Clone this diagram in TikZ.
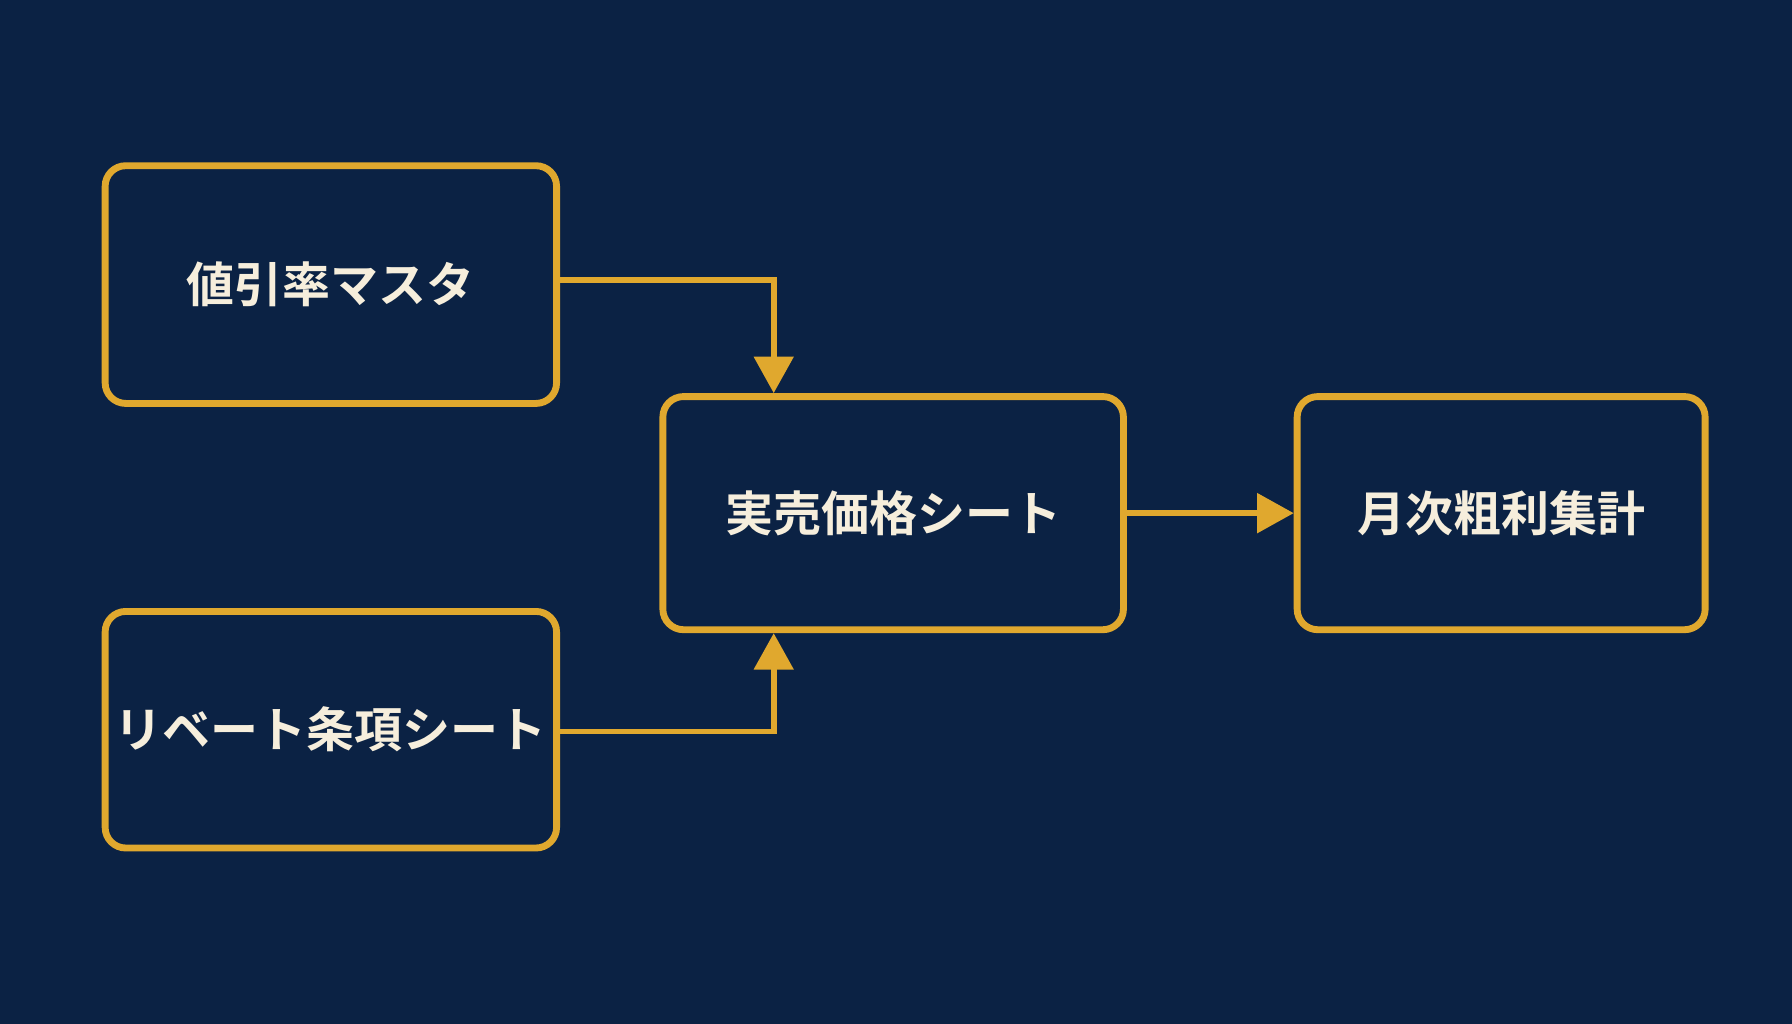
\documentclass[tikz,border=0pt]{standalone}
\usepackage{fontspec}
\newfontfamily\cjk{Noto Sans CJK JP}[BoldFont={Noto Sans CJK JP Bold}]
\usetikzlibrary{arrows.meta}
\definecolor{bg}{HTML}{0B2244}
\definecolor{gold}{HTML}{E0A82E}
\definecolor{cream}{HTML}{F6EEDC}
\begin{document}
\begin{tikzpicture}[x=1pt,y=1pt,
  box/.style={draw=gold,line width=6pt,rounded corners=18pt,inner sep=0pt,
    text=cream,font=\cjk\bfseries\fontsize{42}{50}\selectfont},
  conn/.style={draw=gold,line width=5pt,-{Triangle[length=32pt,width=34pt]}}]
\fill[bg] (0,0) rectangle (1568,-896);
\useasboundingbox (0,0) rectangle (1568,-896);
\node[box,minimum width=395pt,minimum height=208pt] (a) at (289.5,-249) {値引率マスタ};
\node[box,minimum width=395pt,minimum height=207pt] (b) at (289.5,-638.5) {リベート条項シート};
\node[box,minimum width=403pt,minimum height=204pt] (c) at (781.5,-449) {実売価格シート};
\node[box,minimum width=357pt,minimum height=204pt] (d) at (1313.5,-449) {月次粗利集計};
\coordinate (k1) at (677,-245);
\coordinate (k2) at (677,-640);
\draw[conn] (a.east |- k1) -- (k1) -- (k1 |- c.north);
\draw[conn] (b.east |- k2) -- (k2) -- (k2 |- c.south);
\draw[conn] (c.east) -- (d.west);
\end{tikzpicture}
\end{document}
